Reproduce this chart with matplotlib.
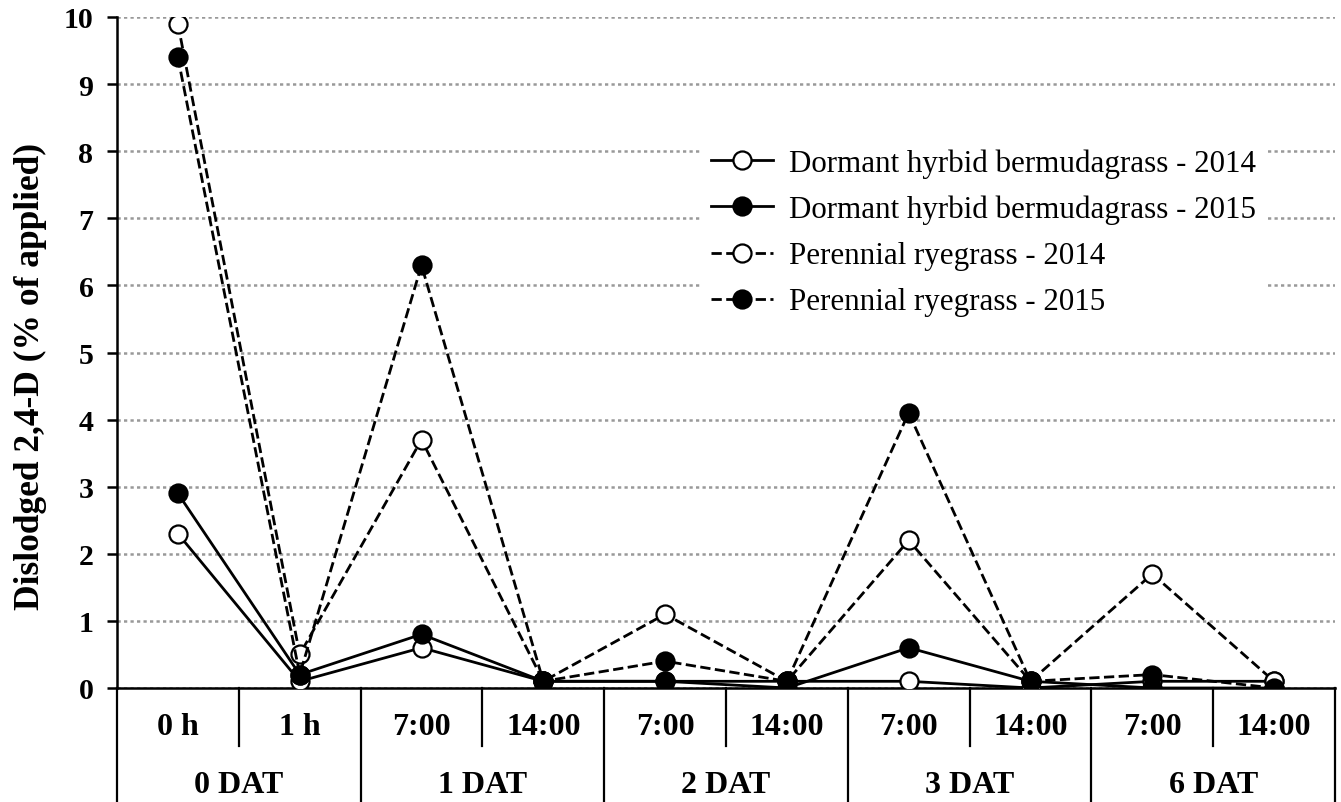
import matplotlib.pyplot as plt
import numpy as np

# categories
times = ['0 h', '1 h', '7:00', '14:00', '7:00', '14:00', '7:00', '14:00', '7:00', '14:00']
days = ['0 DAT', '1 DAT', '2 DAT', '3 DAT', '6 DAT']

# series (% of applied)
bermuda_2014 = [2.3, 0.1, 0.6, 0.1, 0.1, 0.1, 0.1, 0.0, 0.1, 0.1]
bermuda_2015 = [2.9, 0.2, 0.8, 0.1, 0.1, 0.0, 0.6, 0.1, 0.0, 0.0]
rye_2014 = [9.9, 0.5, 3.7, 0.1, 1.1, 0.1, 2.2, 0.1, 1.7, 0.1]
rye_2015 = [9.4, 0.2, 6.3, 0.1, 0.4, 0.1, 4.1, 0.1, 0.2, 0.0]

plt.rcParams['font.family'] = ['Liberation Serif', 'DejaVu Serif']

W, H = 1341, 803
fig = plt.figure(figsize=(W / 100, H / 100), dpi=100)
ax = fig.add_axes([117 / W, 1 - 689 / H, (1335 - 117) / W, (689 - 18) / H])

x = np.arange(len(times))
ms = 13
lw = 2.0
ax.plot(x, bermuda_2014, '-', color='black', lw=lw, marker='o', ms=ms,
        mfc='white', mec='black', mew=1.6, label='Dormant hyrbid bermudagrass - 2014', zorder=3)
ax.plot(x, bermuda_2015, '-', color='black', lw=lw, marker='o', ms=ms,
        mfc='black', mec='black', mew=1.6, label='Dormant hyrbid bermudagrass - 2015', zorder=3)
ax.plot(x, rye_2014, '--', color='black', lw=lw, marker='o', ms=ms,
        mfc='white', mec='black', mew=1.6, label='Perennial ryegrass - 2014', zorder=3)
ax.plot(x, rye_2015, '--', color='black', lw=lw, marker='o', ms=ms,
        mfc='black', mec='black', mew=1.6, label='Perennial ryegrass - 2015', zorder=3)

ax.set_xlim(-0.5, len(times) - 0.5)
ax.set_ylim(0, 10)
ax.set_yticks(range(0, 11))
ax.tick_params(axis='y', direction='out', length=7, width=1.8, labelsize=21.5, pad=10)
for lab in ax.get_yticklabels():
    lab.set_fontweight('bold')
ax.set_xticks([])
ax.grid(axis='y', color='#999999', linestyle=(0, (1.3, 1.3)), linewidth=1.8)
ax.set_axisbelow(True)
for s in ['top', 'right']:
    ax.spines[s].set_visible(False)
ax.spines['left'].set_linewidth(1.8)
ax.spines['bottom'].set_linewidth(1.8)

fig.text(30 / W, 1 - 376 / H, 'Dislodged 2,4-D (% of applied)', rotation=90,
         ha='center', va='center', fontsize=25.5, fontweight='bold')

# category table under the axis
trans = ax.get_xaxis_transform()
ax_h = 689 - 18
row1 = -(747 - 689) / ax_h
row_bot = -(803 - 689) / ax_h
for i in range(len(times) + 1):
    xb = i - 0.5
    yb = row_bot if i % 2 == 0 else row1
    ax.plot([xb, xb], [0, yb], color='black', lw=1.6, transform=trans, clip_on=False)
for i, t in enumerate(times):
    ax.text(i, -(728 - 689) / ax_h, t, transform=trans, ha='center', va='center',
            fontsize=23, fontweight='bold')
for j, d in enumerate(days):
    ax.text(2 * j + 0.5, -(786 - 689) / ax_h, d, transform=trans, ha='center', va='center',
            fontsize=23, fontweight='bold')

leg = ax.legend(loc='upper left', bbox_to_anchor=(702 / W, 1 - 140 / H),
                bbox_transform=fig.transFigure, fontsize=22.3,
                frameon=True, edgecolor='none', facecolor='white', framealpha=1,
                handlelength=2.0, handletextpad=0.5, labelspacing=0.55,
                borderpad=0.3, borderaxespad=0, fancybox=False)

fig.savefig('out.png', dpi=100)
